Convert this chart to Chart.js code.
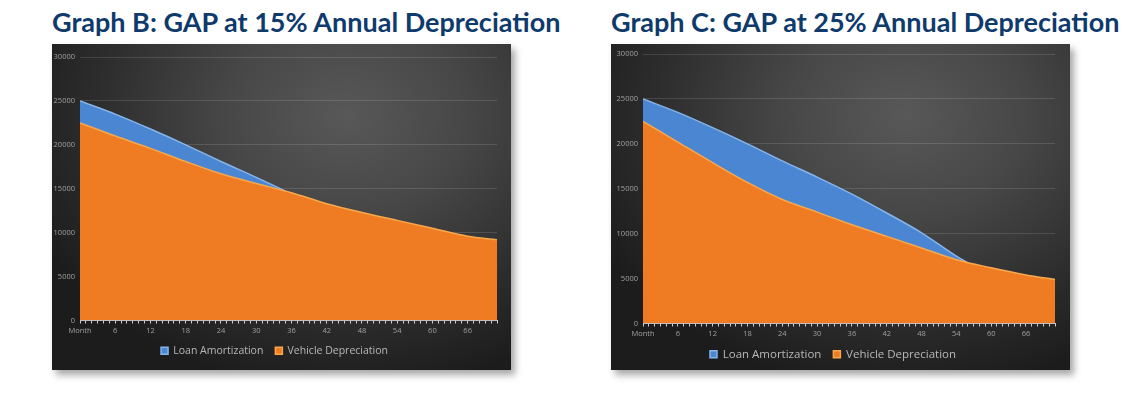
<!DOCTYPE html>
<html>
<head>
<meta charset="utf-8">
<script src="https://cdn.jsdelivr.net/npm/chart.js@4"></script>
<style>
  body { margin: 0; background: #fff; width: 1134px; height: 396px; position: relative; overflow: hidden; }
  .title { position: absolute; top: 5px; font-family: Lato, sans-serif; font-weight: 700; font-size: 27px; color: #0f3a6c; white-space: nowrap; }
  .panel { position: absolute; top: 44px; width: 459px; height: 326px;
    background: radial-gradient(ellipse 75% 85% at 64% 22%, #585858 0%, #474747 35%, #2d2d2d 72%, #1c1c1c 100%);
    box-shadow: 4px 5px 7px rgba(0,0,0,0.35); }
</style>
</head>
<body>
<div class="title" style="left:52px">Graph B: GAP at 15% Annual Depreciation</div>
<div class="title" style="left:611px">Graph C: GAP at 25% Annual Depreciation</div>
<div class="panel" style="left:52px"><canvas id="chartB"></canvas></div>
<div class="panel" style="left:611px"><canvas id="chartC"></canvas></div>
<script>
// values every 6 months (last point = month 71)
const months = [0, 6, 12, 18, 24, 30, 36, 42, 48, 54, 60, 66, 71];
const loanBalance = [25000, 23500, 21800, 20000, 18100, 16300, 14400, 12300, 10100, 7500, 5300, 2700, 400];
const vehicleB = [22500, 21000, 19600, 18100, 16700, 15600, 14550, 13300, 12300, 11400, 10500, 9600, 9200];
const vehicleC = [22500, 20200, 17900, 15700, 13800, 12400, 11000, 9700, 8400, 7100, 6200, 5400, 4900];

const tickMonths = [0, 6, 12, 18, 24, 30, 36, 42, 48, 54, 60, 66];
const tickLabels = ['Month', '6', '12', '18', '24', '30', '36', '42', '48', '54', '60', '66'];
const seriesNames = ['Loan Amortization', 'Vehicle Depreciation'];

function points(values) {
    return months.map((m, i) => ({ x: m, y: values[i] }));
}

function makeChart(id, vehicle, opts) {
    const ctx = document.getElementById(id);
    return new Chart(ctx, {
        type: 'line',
        data: {
            datasets: [{
                // first dataset is drawn on top
                label: seriesNames[1],
                data: points(vehicle),
                backgroundColor: '#ef7b22',
                borderColor: '#f9a84c',
                borderWidth: 1.5,
                fill: 'origin',
                pointRadius: 0,
                cubicInterpolationMode: 'monotone'
            }, {
                label: seriesNames[0],
                data: points(loanBalance),
                backgroundColor: '#4a86d2',
                borderColor: '#86b5ec',
                borderWidth: 1.5,
                fill: 'origin',
                pointRadius: 0,
                cubicInterpolationMode: 'monotone'
            }]
        },
        options: {
            responsive: true,
            maintainAspectRatio: false,
            animation: false,
            layout: { padding: { top: opts.top, right: opts.right, left: 0, bottom: opts.bottom } },
            plugins: {
                tooltip: { enabled: false },
                legend: {
                    position: 'bottom',
                    labels: {
                        color: '#b8b8b8',
                        boxWidth: 7,
                        boxHeight: 7,
                        padding: 12,
                        font: { family: 'Open Sans', size: opts.legendSize },
                        sort: (a, b) => b.datasetIndex - a.datasetIndex
                    }
                }
            },
            scales: {
                x: {
                    type: 'linear',
                    min: 0,
                    max: 71,
                    afterFit: (s) => { s.height = opts.xHeight; },
                    border: { color: '#cfcfcf', width: 1 },
                    grid: { drawOnChartArea: false, drawTicks: true, tickLength: 3, color: '#cfcfcf' },
                    ticks: {
                        stepSize: 1,
                        autoSkip: false,
                        maxRotation: 0,
                        padding: 3,
                        color: '#a0a0a0',
                        font: { family: 'Open Sans', size: 7.5 },
                        callback: (v) => {
                            const i = tickMonths.indexOf(v);
                            return i >= 0 ? tickLabels[i] : '';
                        }
                    }
                },
                y: {
                    min: 0,
                    max: 30000,
                    afterFit: (s) => { s.width = opts.yWidth; },
                    border: { display: false },
                    grid: { color: 'rgba(255,255,255,0.13)', drawTicks: false },
                    ticks: {
                        stepSize: 5000,
                        padding: 5,
                        color: '#a0a0a0',
                        font: { family: 'Open Sans', size: 7.5 },
                        callback: (v) => String(v)
                    }
                }
            }
        }
    });
}

document.addEventListener('DOMContentLoaded', function () {
    makeChart('chartB', vehicleB, { top: 13, right: 14, bottom: 4, xHeight: 13, yWidth: 28, legendSize: 10.5 });
    makeChart('chartC', vehicleC, { top: 10, right: 15, bottom: 0, xHeight: 13, yWidth: 32, legendSize: 11.5 });
});
</script>
</body>
</html>
